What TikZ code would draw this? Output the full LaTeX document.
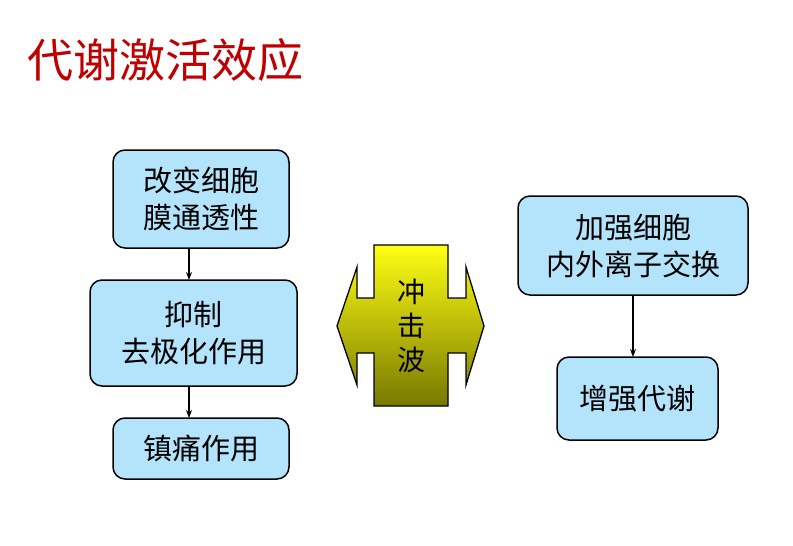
\documentclass[tikz,border=0pt]{standalone}
\usepackage{fontspec}
\newfontfamily\cjk{Noto Sans CJK SC}
\usepackage{xcolor}
\usetikzlibrary{arrows.meta,positioning}
\definecolor{boxblue}{RGB}{180,228,252}
\definecolor{titlered}{RGB}{192,0,0}
\definecolor{waveyellow}{RGB}{255,255,20}
\definecolor{waveolive}{RGB}{120,120,0}

\begin{document}
\begin{tikzpicture}[x=1pt,y=-1pt,
  box/.style={draw,line width=1.5pt,rounded corners=12pt,fill=boxblue,
              align=center,font=\cjk\fontsize{29}{37}\selectfont,inner sep=0pt},
  arrow/.style={-{Stealth[length=8pt,width=6pt]},line width=1.2pt},
]
\useasboundingbox (0,0) rectangle (793,546);
\node[font=\cjk\fontsize{46}{50}\selectfont,text=titlered,anchor=west] (title) at (24,60) {代谢激活效应};
% left column
\node[box,minimum width=176pt,minimum height=98pt] (membrane) at (201,199) {改变细胞\\膜通透性};
\node[box,minimum width=207pt,minimum height=106pt] (depol) at (193.5,333) {抑制\\去极化作用};
\node[box,minimum width=176pt,minimum height=61pt] (analg) at (201,448.5) {镇痛作用};
% right column
\node[box,minimum width=230pt,minimum height=99pt] (ionex) at (633,245.5) {加强细胞\\内外离子交换};
\node[box,minimum width=161pt,minimum height=83pt] (metab) at (637.5,398.5) {增强代谢};
% shock wave double arrow
\shade[draw,line width=1.3pt,top color=waveyellow,bottom color=waveolive]
  (374,245) -- (448,245) -- (448,298) -- (466,298) -- (466,267) -- (484,326)
  -- (466,385) -- (466,353) -- (448,353) -- (448,406) -- (374,406) -- (374,353)
  -- (357,353) -- (357,385) -- (337,326) -- (357,267) -- (357,298) -- (374,298) -- cycle;
\node[align=center,font=\cjk\fontsize{28}{34}\selectfont] (wave) at (411,326) {冲\\击\\波};
\draw[arrow] (189,248) -- (189,280);
\draw[arrow] (189,386) -- (189,418);
\draw[arrow] (633,295) -- (633,357);
\end{tikzpicture}
\end{document}
